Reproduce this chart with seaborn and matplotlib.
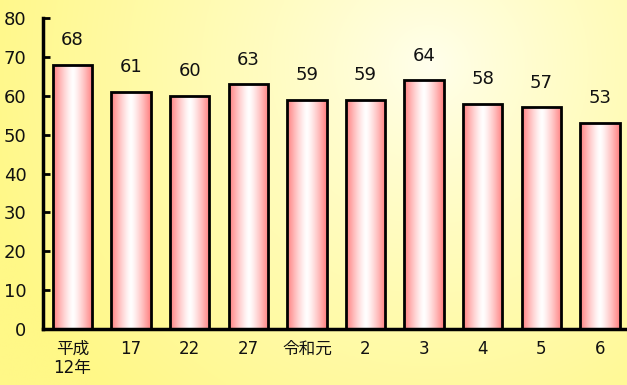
import numpy as np
import pandas as pd
import matplotlib
matplotlib.use("Agg")
import matplotlib.pyplot as plt
import seaborn as sns

# data
categories = ["平成\n12年", "17", "22", "27", "令和元", "2", "3", "4", "5", "6"]
values = [68, 61, 60, 63, 59, 59, 64, 58, 57, 53]
y_ticks = [0, 10, 20, 30, 40, 50, 60, 70, 80]

sns.set_theme(style="white")
plt.rcParams["font.family"] = ["DejaVu Sans", "Noto Sans CJK JP"]

df = pd.DataFrame({"cat": categories, "val": values})

fig = plt.figure(figsize=(6.27, 3.85), dpi=100)

# yellow background with a pale radial highlight near the top
bg = fig.add_axes([0, 0, 1, 1], zorder=-10)
gx, gy = np.meshgrid(np.linspace(0, 6.27, 300), np.linspace(0, 3.85, 200))
dist = np.sqrt((gx - 4.3) ** 2 + (gy - 3.2) ** 2)
d = np.clip(dist / 4.6, 0, 1) ** 0.8
low = np.array([255, 255, 238]) / 255
high = np.array([255, 248, 135]) / 255
img = low[None, None, :] * (1 - d[..., None]) + high[None, None, :] * d[..., None]
bg.imshow(img, origin="lower", extent=[0, 1, 0, 1], aspect="auto")
bg.axis("off")

ax = fig.add_axes([0.0686, 0.1455, 0.9314, 0.8075])
ax.patch.set_alpha(0)

sns.barplot(data=df, x="cat", y="val", ax=ax, width=0.67,
            color="white", edgecolor="black", linewidth=2, zorder=3)

# horizontal red-white-red gradient inside each bar
grad = np.linspace(-1, 1, 256)
w = np.abs(grad) ** 1.3
edge_col = np.array([255, 125, 125]) / 255
bar_img = (1 - w[:, None]) * np.ones(3)[None, :] + w[:, None] * edge_col[None, :]
bar_img = bar_img[None, :, :]
for p in ax.patches:
    x0, y0 = p.get_x(), p.get_y()
    bw, bh = p.get_width(), p.get_height()
    im = ax.imshow(bar_img, extent=[x0, x0 + bw, y0, y0 + bh],
                   aspect="auto", zorder=2.5, interpolation="bilinear")
    im.set_clip_path(p)
    p.set_facecolor("none")
    ax.text(x0 + bw / 2, y0 + bh + 4.0, f"{int(bh)}", ha="center", va="bottom",
            fontsize=13, color="#111111")

ax.set_xlim(-0.5, 9.46)
ax.set_ylim(0, 80)
ax.set_yticks(y_ticks)
ax.set_xlabel("")
ax.set_ylabel("")
ax.tick_params(axis="y", direction="in", length=5, width=2, labelsize=13,
               left=True, pad=12, colors="black", labelcolor="#111111")
ax.tick_params(axis="x", length=0, labelsize=12, pad=8, labelcolor="#111111")
for lbl in ax.get_xticklabels():
    lbl.set_linespacing(1.1)
for s in ["top", "right"]:
    ax.spines[s].set_visible(False)
for s in ["left", "bottom"]:
    ax.spines[s].set_linewidth(2.5)
    ax.spines[s].set_color("black")

fig.savefig("out.png", dpi=100)
